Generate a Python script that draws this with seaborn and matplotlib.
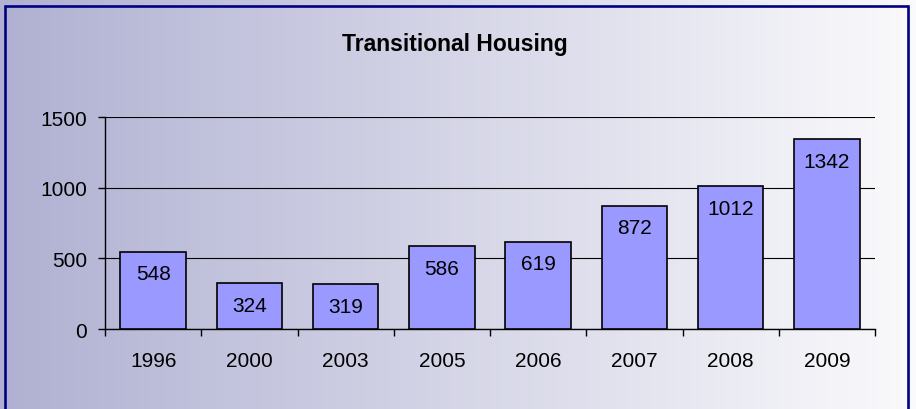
import numpy as np
import pandas as pd
import matplotlib
matplotlib.use("Agg")
import matplotlib.pyplot as plt
from matplotlib.patches import Rectangle
import seaborn as sns

years = ["1996", "2000", "2003", "2005", "2006", "2007", "2008", "2009"]
counts = [548, 324, 319, 586, 619, 872, 1012, 1342]
y_ticks = [0, 500, 1000, 1500]

df = pd.DataFrame({"year": years, "count": counts})

sns.set_style("white")
plt.rcParams["font.family"] = ["Liberation Sans", "DejaVu Sans"]
plt.rcParams["text.color"] = "black"
plt.rcParams["xtick.color"] = "black"
plt.rcParams["ytick.color"] = "black"
plt.rcParams["xtick.labelcolor"] = "black"
plt.rcParams["ytick.labelcolor"] = "black"

fig = plt.figure(figsize=(9.16, 4.10), dpi=100)

# horizontal lavender-to-white gradient behind everything
bg = fig.add_axes([0, 0, 1, 1], zorder=-10)
left_c = np.array([176, 177, 210]) / 255
right_c = np.array([250, 250, 252]) / 255
t = np.linspace(0, 1, 256)[None, :, None]
grad = left_c * (1 - t) + right_c * t
bg.imshow(grad, aspect="auto", extent=[0, 1, 0, 1])
bg.set_axis_off()

# navy frame
fig.patches.append(Rectangle((4.5 / 916, -0.05), (908 - 4.5) / 916, (410 - 7) / 410 + 0.05,
                             transform=fig.transFigure, fill=False,
                             edgecolor="#000080", linewidth=1.9, zorder=5))

ax = fig.add_axes([105 / 916, 1 - 330 / 410, (875 - 105) / 916, (330 - 118) / 410])
ax.set_facecolor("none")

sns.barplot(data=df, x="year", y="count", order=years, color="#9999FF",
            saturation=1, edgecolor="black", linewidth=1.2, width=0.68, ax=ax, zorder=3)

for i, v in enumerate(counts):
    ax.annotate(str(v), (i, v), xytext=(0, -16), textcoords="offset points",
                ha="center", va="center", fontsize=15, color="black", zorder=4)

ax.set_ylim(0, 1500)
ax.set_xlim(-0.5, len(years) - 0.5)
ax.set_yticks(y_ticks)
ax.yaxis.grid(True, color="black", linewidth=0.8, zorder=0)
ax.set_axisbelow(True)
ax.set_xlabel("")
ax.set_ylabel("")

for s in ["top", "right"]:
    ax.spines[s].set_visible(False)
for s in ["left", "bottom"]:
    ax.spines[s].set_color("black")
    ax.spines[s].set_linewidth(1.0)

ax.tick_params(axis="y", length=5, width=1, direction="out", pad=8, labelsize=15, left=True)
ax.tick_params(axis="x", which="major", length=0, pad=16, labelsize=15)
ax.set_xticks(np.arange(-0.5, len(years)), minor=True)
ax.tick_params(axis="x", which="minor", length=5, width=1, direction="out", bottom=True)

fig.text(455 / 916, 1 - 45 / 410, "Transitional Housing", ha="center", va="center",
         fontsize=16.5, fontweight="bold", color="black")

fig.savefig("out.png", dpi=100)
